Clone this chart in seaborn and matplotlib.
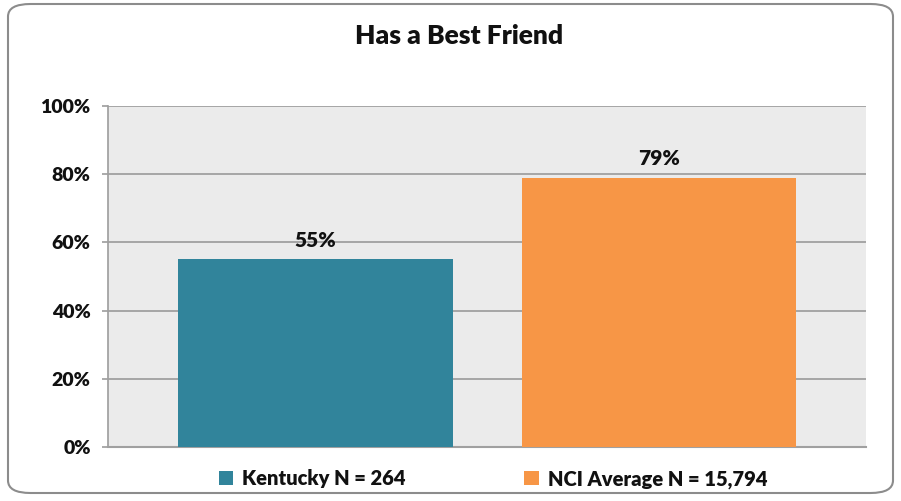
import matplotlib
matplotlib.use("Agg")
import matplotlib.pyplot as plt
from matplotlib.patches import FancyBboxPatch, Patch
import seaborn as sns
import pandas as pd

categories = ["Kentucky N = 264", "NCI Average N = 15,794"]
values = [55, 79]
value_labels = ["55%", "79%"]
colors = ["#31849B", "#F79646"]
yticks = [0, 20, 40, 60, 80, 100]
ytick_labels = ["0%", "20%", "40%", "60%", "80%", "100%"]
title = "Has a Best Friend"

sns.set_theme(style="white")
plt.rcParams["font.family"] = ["Lato", "DejaVu Sans"]
plt.rcParams["font.weight"] = "bold"

df = pd.DataFrame({"cat": categories, "val": values})

fig = plt.figure(figsize=(9.01, 5.01), dpi=100)
fig.patch.set_facecolor("white")
ax = fig.add_axes([108/901, 1-447/501, (866-108)/901, (447-106)/501])
ax.set_facecolor("#EBEBEB")

sns.barplot(data=df, x="cat", y="val", hue="cat", palette=colors, width=0.8,
            legend=False, ax=ax, saturation=1, zorder=3, edgecolor="none")

ax.set_xlim(-0.604, 1.603)
ax.set_ylim(0, 100)
ax.set_yticks(yticks)
ax.set_yticklabels(ytick_labels, fontsize=14, fontweight="heavy", color="#111111")
ax.set_xticks([])
ax.set_xlabel("")
ax.set_ylabel("")
ax.yaxis.grid(True, color="#9A9A9A", linewidth=1.2, zorder=0)
ax.set_axisbelow(True)
for s in ["top", "right"]:
    ax.spines[s].set_visible(False)
ax.spines["left"].set_color("#A0A0A0")
ax.spines["bottom"].set_color("#A0A0A0")
ax.spines["bottom"].set_linewidth(1.5)
ax.tick_params(axis="y", left=True, length=4.5, color="#A0A0A0", pad=8)

for i, (v, lab) in enumerate(zip(values, value_labels)):
    ax.text(i, v + 2.8, lab, ha="center", va="bottom", fontsize=15,
            fontweight="heavy", color="#111111")

fig.text(459/901, 1-36/501, title, ha="center", va="center", fontsize=19,
         fontweight="heavy", color="#111111")

handles = [Patch(facecolor=c, edgecolor="none") for c in colors]
leg = fig.legend(handles, categories, loc="center", bbox_to_anchor=(493/901, 1-479/501),
                 ncol=2, frameon=False, fontsize=14.5, handlelength=0.7, handleheight=0.7,
                 columnspacing=5.9, handletextpad=0.45)
for t in leg.get_texts():
    t.set_fontweight("heavy")
    t.set_color("#111111")

border = FancyBboxPatch((8/901, 8/501), (893-8)/901, (497-8)/501,
                        boxstyle="round,pad=0,rounding_size=0.025",
                        transform=fig.transFigure, facecolor="none",
                        edgecolor="#8C8C8C", linewidth=1.5)
fig.patches.append(border)

fig.savefig("out.png", dpi=100)
